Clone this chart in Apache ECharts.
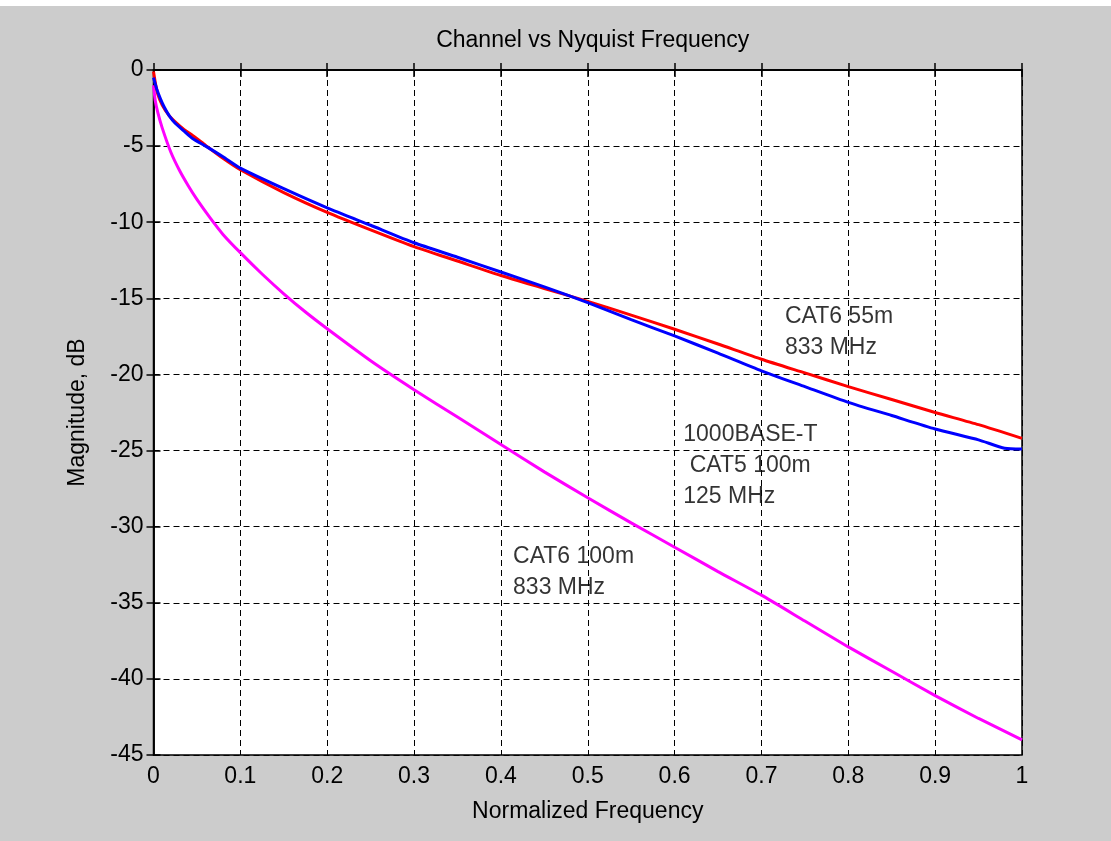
<!DOCTYPE html>
<html>
<head>
<meta charset="utf-8">
<script src="https://cdn.jsdelivr.net/npm/echarts@6/dist/echarts.min.js"></script>
<style>
  html, body { margin: 0; padding: 0; background: #ffffff; }
  #chart { position: absolute; left: 0; top: 6px; width: 1111px; height: 835px; background: #cccccc; }
</style>
</head>
<body>
<div id="chart"></div>
<script>
// CAT6 55m, 833 MHz (red)
const freqRed = [0, 0.002, 0.005, 0.01, 0.018, 0.025, 0.035, 0.045, 0.06, 0.08, 0.1, 0.15, 0.2, 0.25, 0.3, 0.35, 0.4, 0.45, 0.5, 0.55, 0.6, 0.65, 0.7, 0.75, 0.8, 0.85, 0.9, 0.95, 1.0]
const magRed = [-0.1, -0.8, -1.6, -2.3, -3.0, -3.4, -3.9, -4.3, -4.95, -5.8, -6.55, -8.05, -9.35, -10.5, -11.6, -12.55, -13.5, -14.35, -15.2, -16.1, -17.03, -18.0, -19.0, -19.9, -20.8, -21.65, -22.5, -23.3, -24.2]

// 1000BASE-T CAT5 100m, 125 MHz (blue)
const freqBlue = [0, 0.004, 0.008, 0.012, 0.018, 0.025, 0.035, 0.045, 0.06, 0.08, 0.1, 0.15, 0.2, 0.25, 0.3, 0.35, 0.4, 0.45, 0.5, 0.55, 0.6, 0.65, 0.7, 0.75, 0.8, 0.85, 0.9, 0.95, 0.98, 1.0]
const magBlue = [-0.5, -1.3, -1.9, -2.4, -3.0, -3.5, -4.0, -4.5, -5.0, -5.7, -6.45, -7.8, -9.06, -10.2, -11.35, -12.3, -13.27, -14.25, -15.28, -16.4, -17.47, -18.6, -19.76, -20.8, -21.83, -22.7, -23.58, -24.3, -24.85, -24.9]

// CAT6 100m, 833 MHz (magenta)
const freqMag = [0, 0.002, 0.005, 0.01, 0.02, 0.03, 0.04, 0.05, 0.065, 0.08, 0.1, 0.125, 0.15, 0.175, 0.2, 0.25, 0.3, 0.35, 0.4, 0.45, 0.5, 0.55, 0.6, 0.65, 0.7, 0.75, 0.8, 0.85, 0.9, 0.95, 1.0]
const magMag = [-1.0, -2.0, -2.8, -3.8, -5.4, -6.6, -7.6, -8.5, -9.7, -10.8, -12.0, -13.4, -14.7, -15.9, -17.0, -19.1, -21.0, -22.8, -24.6, -26.4, -28.1, -29.75, -31.35, -32.95, -34.5, -36.2, -37.9, -39.5, -41.1, -42.6, -44.0]

// 文字标注（数据坐标，文字左端 / 垂直居中）
const noteText = ['CAT6 55m\n833 MHz', '1000BASE-T\n CAT5 100m\n125 MHz', 'CAT6 100m\n833 MHz']
const noteX = [0.727, 0.61, 0.414]
const noteY = [-17.2, -26.0, -33.0]

const FONT = '"Liberation Sans", Arial, sans-serif'
const GRID = { left: 153.5, right: 89, top: 64, bottom: 86 }

function pairs(xs, ys) {
  return xs.map((x, i) => [x, ys[i]])
}

const chart = echarts.init(document.getElementById('chart'))

const plotCenterX = GRID.left + (1111 - GRID.left - GRID.right) / 2

const gridLine = { show: true, lineStyle: { type: [6, 4], color: '#000000', width: 1 } }
const tickIn = { show: true, inside: true, length: 7, lineStyle: { color: '#000000', width: 1.5 } }

function curve(name, xs, ys, color) {
  return {
    name,
    type: 'line',
    data: pairs(xs, ys),
    symbol: 'none',
    smooth: 0.2,
    lineStyle: { width: 3, color },
  }
}

chart.setOption({
  animation: false,
  backgroundColor: '#cccccc',
  title: {
    text: 'Channel vs Nyquist Frequency',
    left: plotCenterX,
    textAlign: 'center',
    top: 18,
    textStyle: { fontFamily: FONT, fontSize: 23, fontWeight: 'normal', color: '#000000' },
  },
  grid: {
    ...GRID,
    show: true,
    backgroundColor: '#ffffff',
    borderColor: '#000000',
    borderWidth: 1.5,
  },
  xAxis: [
    {
      type: 'value',
      min: 0,
      max: 1,
      interval: 0.1,
      name: 'Normalized Frequency',
      nameLocation: 'middle',
      nameGap: 45,
      nameTextStyle: { fontFamily: FONT, fontSize: 23, color: '#000000' },
      axisLine: { show: true, lineStyle: { color: '#000000', width: 1.5 } },
      axisTick: tickIn,
      axisLabel: { fontFamily: FONT, fontSize: 23, color: '#000000', margin: 10 },
      splitLine: gridLine,
    },
    {
      type: 'value',
      position: 'top',
      min: 0,
      max: 1,
      interval: 0.1,
      axisLine: { show: true, lineStyle: { color: '#000000', width: 1.5 } },
      axisTick: tickIn,
      axisLabel: { show: false },
      splitLine: { show: false },
    },
  ],
  yAxis: [
    {
      type: 'value',
      min: -45,
      max: 0,
      interval: 5,
      name: 'Magnitude, dB',
      nameLocation: 'middle',
      nameGap: 64,
      nameTextStyle: { fontFamily: FONT, fontSize: 23, color: '#000000' },
      axisLine: { show: true, lineStyle: { color: '#000000', width: 1.5 } },
      axisTick: tickIn,
      axisLabel: { fontFamily: FONT, fontSize: 23, color: '#000000', margin: 10 },
      splitLine: gridLine,
    },
    {
      type: 'value',
      position: 'right',
      min: -45,
      max: 0,
      interval: 5,
      axisLine: { show: true, lineStyle: { color: '#000000', width: 1.5 } },
      axisTick: tickIn,
      axisLabel: { show: false },
      splitLine: { show: false },
    },
  ],
  series: [
    curve('CAT6 100m', freqMag, magMag, '#ff00ff'),
    curve('CAT6 55m', freqRed, magRed, '#ff0000'),
    curve('1000BASE-T', freqBlue, magBlue, '#0000ff'),
    {
      name: 'notes',
      type: 'scatter',
      silent: true,
      symbolSize: 0,
      data: noteText.map((t, i) => ({ value: [noteX[i], noteY[i]], name: t })),
      label: {
        show: true,
        position: 'right',
        distance: 0,
        formatter: (p) => p.name,
        fontFamily: FONT,
        fontSize: 23,
        lineHeight: 31,
        color: '#000000',
        align: 'left',
        verticalAlign: 'middle',
      },
      z: 5,
    },
  ],
})
</script>
</body>
</html>
